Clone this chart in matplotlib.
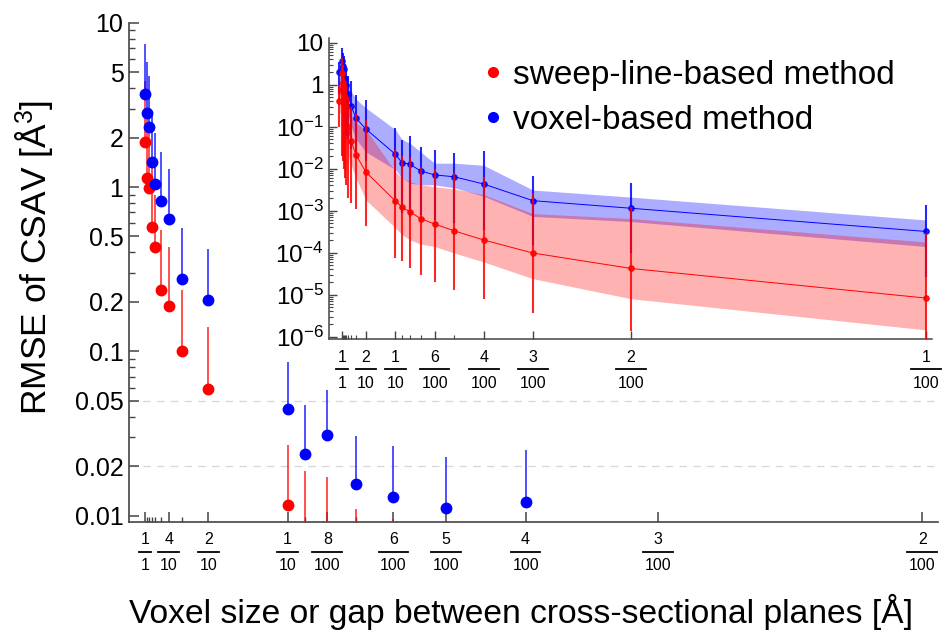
import numpy as np
import matplotlib
matplotlib.use('Agg')
import matplotlib.pyplot as plt
from matplotlib.ticker import FixedLocator, NullFormatter, FixedFormatter
from matplotlib.transforms import blended_transform_factory, offset_copy
from matplotlib.lines import Line2D

plt.rcParams['font.family'] = ['Liberation Sans', 'DejaVu Sans']
plt.rcParams['mathtext.fontset'] = 'custom'
plt.rcParams['mathtext.rm'] = 'Liberation Sans'
plt.rcParams['mathtext.it'] = 'Liberation Sans:italic'

RED = '#ff0000'
BLUE = '#0000ff'

# ---------------- main plot data (voxel size d, plotted at 1/d) ----------------
main_d = [1, 0.9, 0.8, 0.7, 0.6, 0.5, 0.4, 0.3, 0.2, 0.1, 0.09, 0.08, 0.07, 0.06, 0.05, 0.04, 0.03, 0.02]
main_red = [1.89, 1.13, 0.986, 0.57, 0.434, 0.237, 0.189, 0.101, 0.059, 0.0116,
            0.0060, 0.0050, 0.0040, 0.0030, 0.0020, 0.0015, 0.0008, 0.0004]
main_red_hi = [4.4, 2.6, 2.2, 1.3, 0.9, 0.55, 0.43, 0.236, 0.141, 0.0269,
               0.0188, 0.0171, 0.0110, 0.0096, 0.0080, 0.0060, 0.0030, 0.0012]
main_blue = [3.66, 2.84, 2.33, 1.42, 1.05, 0.818, 0.641, 0.275, 0.206, 0.0448,
             0.0236, 0.031, 0.0156, 0.0129, 0.0112, 0.0121, 0.0050, 0.0040]
main_blue_hi = [7.4, 5.74, 4.74, 2.81, 2.12, 1.64, 1.28, 0.561, 0.418, 0.0865,
                0.0471, 0.058, 0.0306, 0.0266, 0.0226, 0.0251, 0.0085, 0.0080]

main_tick_num = [1, 4, 2, 1, 8, 6, 5, 4, 3, 2]
main_tick_den = [1, 10, 10, 10, 100, 100, 100, 100, 100, 100]
main_minor_d = [0.9, 0.8, 0.7, 0.6, 0.5, 0.3, 0.09, 0.07]
main_yticks = [0.01, 0.02, 0.05, 0.1, 0.2, 0.5, 1, 2, 5, 10]
main_ytick_labels = ['0.01', '0.02', '0.05', '0.1', '0.2', '0.5', '1', '2', '5', '10']
main_grid_y = [0.02, 0.05]

# ---------------- inset data ----------------
in_d = [2, 1, 0.9, 0.8, 0.7, 0.6, 0.5, 0.4, 0.3, 0.2, 0.1, 0.09, 0.08, 0.07, 0.06, 0.05, 0.04, 0.03, 0.02, 0.01]
in_blue = [1.97, 3.6, 2.8, 2.3, 1.4, 1.0, 0.6, 0.31, 0.158, 0.088, 0.022, 0.0139, 0.0127, 0.0088,
           0.0071, 0.0064, 0.0043, 0.00173, 0.00114, 0.00032]
in_blue_hi = [3.5, 7.4, 5.7, 4.7, 2.8, 2.1, 1.6, 1.2, 0.56, 0.42, 0.091, 0.048, 0.06, 0.032,
              0.028, 0.023, 0.026, 0.0068, 0.0045, 0.0014]
in_blue_lo = [0.6, 0.6, 0.3, 0.25, 0.1, 0.06, 0.05, 0.03, 0.02, 0.015, 0.0015, 0.0009, 0.0007, 0.0008,
              0.0006, 0.0005, 0.00035, 0.00015, 0.0001, 0.000027]
in_red = [0.41, 1.9, 1.1, 0.9, 0.5, 0.3, 0.1, 0.045, 0.021, 0.0083, 0.0017, 0.00123, 0.00093, 0.00065,
          0.00048, 0.00033, 0.0002, 0.000098, 0.000042, 0.0000083]
in_red_hi = [1.0, 4.4, 3.0, 2.0, 1.2, 0.8, 0.5, 0.3, 0.2, 0.145, 0.028, 0.0195, 0.0178, 0.0112,
             0.0098, 0.0078, 0.0065, 0.0027, 0.0012, 0.0003]
in_red_lo = [0.1, 0.02, 0.015, 0.01, 0.006, 0.004, 0.002, 0.0015, 0.0011, 0.00042, 7.4e-5, 6.2e-5,
             4.3e-5, 3e-5, 2e-5, 1.3e-5, 7.8e-6, 3.6e-6, 1.4e-6, 4e-7]
in_blue_band_hi = [3, 6, 4.5, 3.5, 2.5, 1.8, 1.2, 0.7, 0.45, 0.28, 0.085, 0.05, 0.04, 0.025,
                   0.0135, 0.0135, 0.012, 0.0031, 0.0021, 0.0006]
in_blue_band_lo = [1.0, 1.5, 1.0, 0.8, 0.5, 0.35, 0.2, 0.1, 0.05, 0.025, 0.0095, 0.006, 0.0045, 0.0042,
                   0.0041, 0.0035, 0.0022, 0.00073, 0.00055, 0.00014]
in_red_band_hi = [1.0, 3, 2, 1.5, 1.0, 0.6, 0.35, 0.18, 0.12, 0.085, 0.0085, 0.006, 0.0048, 0.0042,
                  0.0037, 0.0033, 0.0024, 0.00085, 0.00065, 0.00018]
in_red_band_lo = [0.2, 0.25, 0.15, 0.1, 0.06, 0.04, 0.02, 0.012, 0.006, 0.0018, 0.00039, 0.00027, 0.0002,
                  0.00016, 0.00014, 9.8e-5, 6e-5, 2.4e-5, 8e-6, 1.45e-6]

in_tick_num = [1, 2, 1, 6, 4, 3, 2, 1]
in_tick_den = [1, 10, 10, 100, 100, 100, 100, 100]
in_minor_d = [0.9, 0.8, 0.7, 0.6, 0.5, 0.4, 0.3, 0.09, 0.08, 0.07, 0.05]
in_yexp = [1, 0, -1, -2, -3, -4, -5, -6]

legend_labels = ['sweep-line-based method', 'voxel-based method']

# ---------------- figure ----------------
W, H = 946, 633
fig = plt.figure(figsize=(W / 100, H / 100), dpi=100)

def px_axes(l, t, r, b):
    return [l / W, 1 - b / H, (r - l) / W, (b - t) / H]

ax = fig.add_axes(px_axes(129, 22.7, 938, 522))
ax.set_yscale('log')
ax.set_xlim(0, 51)
ax.set_ylim(0.00915, 10)

inv = lambda arr: [1.0 / v for v in arr]

mx = inv(main_d)
for y, yhi, c in [(main_red, main_red_hi, RED), (main_blue, main_blue_hi, BLUE)]:
    y = np.array(y); yhi = np.array(yhi)
    ax.errorbar(mx, y, yerr=[np.zeros_like(y), yhi - y], fmt='o', ms=7.5, color=c,
                ecolor=c, elinewidth=1.2, capsize=0, zorder=3)
for coll in ax.collections:
    coll.set_alpha(0.8)

for g in main_grid_y:
    ax.axhline(g, color='#d6d6d6', lw=0.9, ls=(0, (6, 5)), zorder=0)

for s in ['top', 'right']:
    ax.spines[s].set_visible(False)
for s in ['left', 'bottom']:
    ax.spines[s].set_color('#444444')
    ax.spines[s].set_linewidth(1.2)

ax.yaxis.set_major_locator(FixedLocator(main_yticks))
ax.yaxis.set_major_formatter(FixedFormatter(main_ytick_labels))
minor_y = [m * 10.0 ** e for e in range(-3, 1) for m in range(2, 10)
           if m * 10.0 ** e not in main_yticks and 0.0091 < m * 10.0 ** e < 10]
ax.yaxis.set_minor_locator(FixedLocator(minor_y))
ax.yaxis.set_minor_formatter(NullFormatter())
ax.tick_params(axis='y', which='major', direction='in', length=7, width=1.1, color='#444444',
               labelsize=18, pad=4)
ax.tick_params(axis='y', which='minor', direction='in', length=4, width=1.0, color='#444444')

main_xt = [d / n for n, d in zip(main_tick_num, main_tick_den)]
ax.xaxis.set_major_locator(FixedLocator(main_xt))
ax.xaxis.set_major_formatter(NullFormatter())
ax.xaxis.set_minor_locator(FixedLocator(inv(main_minor_d)))
ax.tick_params(axis='x', which='major', direction='in', length=7, width=1.1, color='#444444')
ax.tick_params(axis='x', which='minor', direction='in', length=3.5, width=1.0, color='#444444')


def frac_labels(a, nums, dens, fs, off_num, off_bar, off_den):
    fig.canvas.draw()
    trans = blended_transform_factory(a.transData, a.transAxes)
    x0, x1 = a.get_xlim()
    wpx = a.get_position().width * W
    dpp = (x1 - x0) / wpx
    tnum = offset_copy(trans, fig=fig, y=-off_num, units='dots')
    tbar = offset_copy(trans, fig=fig, y=-off_bar, units='dots')
    tden = offset_copy(trans, fig=fig, y=-off_den, units='dots')
    for n, d in zip(nums, dens):
        xv = d / n
        a.text(xv, 0, str(n), transform=tnum, ha='center', va='center', fontsize=fs, clip_on=False)
        a.text(xv, 0, str(d), transform=tden, ha='center', va='center', fontsize=fs, clip_on=False)
        hw = (len(str(d)) * 0.556 * fs * 100 / 72 + 3) / 2 * dpp
        a.add_line(Line2D([xv - hw, xv + hw], [0, 0], transform=tbar, color='black',
                          lw=1.3, clip_on=False))

frac_labels(ax, main_tick_num, main_tick_den, 11.5, 18, 29.5, 44)

ax.set_ylabel('RMSE of CSAV [Å$^3$]', fontsize=25.5)
ax.yaxis.set_label_coords(-0.09, 0.53)
fig.text(521 / W, 1 - 612 / H, 'Voxel size or gap between cross-sectional planes [Å]',
         fontsize=24.2, ha='center', va='center')

# ---------------- inset ----------------
ai = fig.add_axes(px_axes(329, 38, 931.7, 339))
ai.set_yscale('log')
ai.set_xlim(-1.26, 101.0)
ai.set_ylim(8.8e-7, 12.9)
ix = inv(in_d)
ai.fill_between(ix, in_blue_band_lo, in_blue_band_hi, color=BLUE, alpha=0.32, lw=0, zorder=1)
ai.fill_between(ix, in_red_band_lo, in_red_band_hi, color=RED, alpha=0.3, lw=0, zorder=1)
for y, lo, hi, c, z in [(in_blue, in_blue_lo, in_blue_hi, BLUE, 3), (in_red, in_red_lo, in_red_hi, RED, 4)]:
    y = np.array(y); lo = np.array(lo); hi = np.array(hi)
    ai.errorbar(ix, y, yerr=[y - lo, hi - y], fmt='o', ms=3.8, color=c, ecolor=c,
                elinewidth=1.5, capsize=0, zorder=z, alpha=0.85)
    ai.plot(ix, y, '-', color=c, lw=0.7, zorder=z)

for s in ['top', 'right']:
    ai.spines[s].set_visible(False)
for s in ['left', 'bottom']:
    ai.spines[s].set_color('#444444')
    ai.spines[s].set_linewidth(1.1)

ai.yaxis.set_major_locator(FixedLocator([10.0 ** e for e in in_yexp]))
ai.yaxis.set_major_formatter(FixedFormatter(
    ['10' if e == 1 else ('1' if e == 0 else r'$\mathregular{10^{%d}}$' % e) for e in in_yexp]))
ai.yaxis.set_minor_locator(FixedLocator([m * 10.0 ** e for e in range(-6, 1) for m in range(2, 10)]))
ai.yaxis.set_minor_formatter(NullFormatter())
ai.tick_params(axis='y', which='major', direction='in', length=6, width=1.0, color='#444444',
               labelsize=17.5, pad=4)
ai.tick_params(axis='y', which='minor', direction='in', length=3, width=0.8, color='#444444')
in_xt = [d / n for n, d in zip(in_tick_num, in_tick_den)]
ai.xaxis.set_major_locator(FixedLocator(in_xt))
ai.xaxis.set_major_formatter(NullFormatter())
ai.xaxis.set_minor_locator(FixedLocator(inv(in_minor_d)))
ai.tick_params(axis='x', which='major', direction='in', length=6, width=1.0, color='#444444')
ai.tick_params(axis='x', which='minor', direction='in', length=3, width=0.8, color='#444444')

frac_labels(ai, in_tick_num, in_tick_den, 11.5, 19, 29.7, 45)

handles = [Line2D([], [], ls='none', marker='o', ms=7, color=RED),
           Line2D([], [], ls='none', marker='o', ms=7, color=BLUE)]
ai.legend(handles, legend_labels, loc='upper left', bbox_to_anchor=(483 / W, 1 - 60 / H),
          bbox_transform=fig.transFigure, frameon=False, fontsize=24, handlelength=0.6,
          handletextpad=0.3, labelspacing=0.42, borderpad=0, borderaxespad=0)

fig.savefig('out.png', dpi=100)
